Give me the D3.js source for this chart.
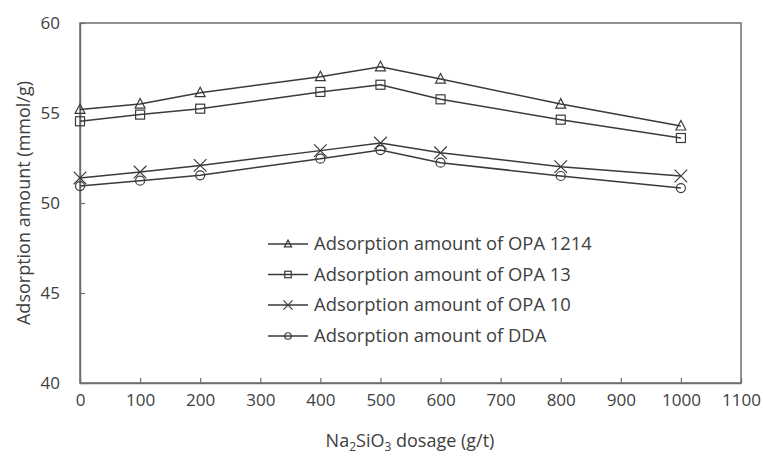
<!DOCTYPE html>
<html><head><meta charset="utf-8">
<script src="https://cdn.jsdelivr.net/npm/d3@7"></script>
<style>body{margin:0;background:#fff}svg{display:block}text{font-family:"Open Sans",sans-serif}</style>
</head><body><svg id="c" width="763" height="457"></svg>
<script>
const dosage = [0, 100, 200, 400, 500, 600, 800, 1000];
const opa1214 = [55.2, 55.5, 56.13, 57.02, 57.57, 56.89, 55.5, 54.28];
const opa13 = [54.54, 54.91, 55.24, 56.17, 56.57, 55.76, 54.63, 53.61];
const opa10 = [51.39, 51.72, 52.09, 52.91, 53.33, 52.79, 52.02, 51.5];
const dda = [50.94, 51.24, 51.54, 52.46, 52.94, 52.24, 51.5, 50.83];
const seriesNames = ["Adsorption amount of OPA 1214", "Adsorption amount of OPA 13", "Adsorption amount of OPA 10", "Adsorption amount of DDA"];
const seriesMarkers = ["triangle", "square", "cross", "circle"];
const xTicks = [0,100,200,300,400,500,600,700,800,900,1000,1100];
const yTicks = [40,45,50,55,60];

const series = [opa1214, opa13, opa10, dda].map((v,i)=>({name:seriesNames[i], marker:seriesMarkers[i], values:v}));

const svg = d3.select("#c");
const L=80, R=741, T=23, B=383;
const x = d3.scaleLinear().domain([0,1100]).range([L,R]);
const y = d3.scaleLinear().domain([40,60]).range([B,T]);
const axisCol="#6e6e6e", textCol="#404040", lineCol="#3a3a3a";

svg.append("rect").attr("x",L).attr("y",T).attr("width",R-L).attr("height",B-T)
  .attr("fill","none").attr("stroke",axisCol).attr("stroke-width",1.5);

const gx = svg.append("g").attr("transform",`translate(0,${B})`)
  .call(d3.axisBottom(x).tickValues(xTicks).tickSizeInner(-5).tickSizeOuter(0).tickPadding(20).tickFormat(d3.format("d")));
const gy = svg.append("g").attr("transform",`translate(${L},0)`)
  .call(d3.axisLeft(y).tickValues(yTicks).tickSizeInner(-5).tickSizeOuter(0).tickPadding(20));
[gx,gy].forEach(g=>{
  g.select(".domain").attr("stroke",axisCol).attr("stroke-width",1.5);
  g.selectAll(".tick line").attr("stroke",axisCol).attr("stroke-width",1.2);
  g.selectAll(".tick text").attr("fill",textCol).style("font-size","17px").style("font-family","'Open Sans',sans-serif");
});
gx.selectAll(".tick text").attr("dy","0.2em");

const xt = svg.append("text").attr("x",410).attr("y",447).attr("text-anchor","middle")
  .attr("fill",textCol).style("font-size","18px");
xt.append("tspan").text("Na");
xt.append("tspan").text("2").attr("dy",4).style("font-size","12px");
xt.append("tspan").text("SiO").attr("dy",-4);
xt.append("tspan").text("3").attr("dy",4).style("font-size","12px");
xt.append("tspan").text(" dosage (g/t)").attr("dy",-4);

svg.append("text").attr("transform",`translate(30,${(T+B)/2}) rotate(-90)`).attr("text-anchor","middle")
  .attr("fill",textCol).style("font-size","18px").text("Adsorption amount (mmol/g)");

function drawMarker(g, type, cx, cy, s){
  let el;
  if(type==="triangle"){
    el = g.append("path").attr("d",`M${cx},${cy-s*0.6}L${cx+s*0.55},${cy+s*0.45}L${cx-s*0.55},${cy+s*0.45}Z`);
  } else if(type==="square"){
    el = g.append("rect").attr("x",cx-s/2).attr("y",cy-s/2).attr("width",s).attr("height",s);
  } else if(type==="cross"){
    const h=s*0.7;
    el = g.append("path").attr("d",`M${cx-h},${cy-h}L${cx+h},${cy+h}M${cx-h},${cy+h}L${cx+h},${cy-h}`);
  } else {
    el = g.append("circle").attr("cx",cx).attr("cy",cy).attr("r",s/2);
  }
  el.attr("fill","none").attr("stroke",lineCol).attr("stroke-width",1.2);
}

const line = d3.line().x((d,i)=>x(dosage[i])).y(d=>y(d));
series.forEach(s=>{
  const g = svg.append("g");
  g.append("path").datum(s.values).attr("d",line).attr("fill","none").attr("stroke",lineCol).attr("stroke-width",1.5);
  s.values.forEach((v,i)=>drawMarker(g, s.marker, x(dosage[i]), y(v), 9));
});

const legY = [244, 274.5, 305, 336];
series.forEach((s,i)=>{
  const g = svg.append("g");
  g.append("line").attr("x1",268).attr("x2",308).attr("y1",legY[i]).attr("y2",legY[i]).attr("stroke",lineCol).attr("stroke-width",1.5);
  drawMarker(g, s.marker, 288, legY[i], 6.5);
  g.append("text").attr("x",314).attr("y",legY[i]).attr("dy","0.35em").attr("fill",textCol)
    .style("font-size","18.4px").text(s.name);
});
</script></body></html>
